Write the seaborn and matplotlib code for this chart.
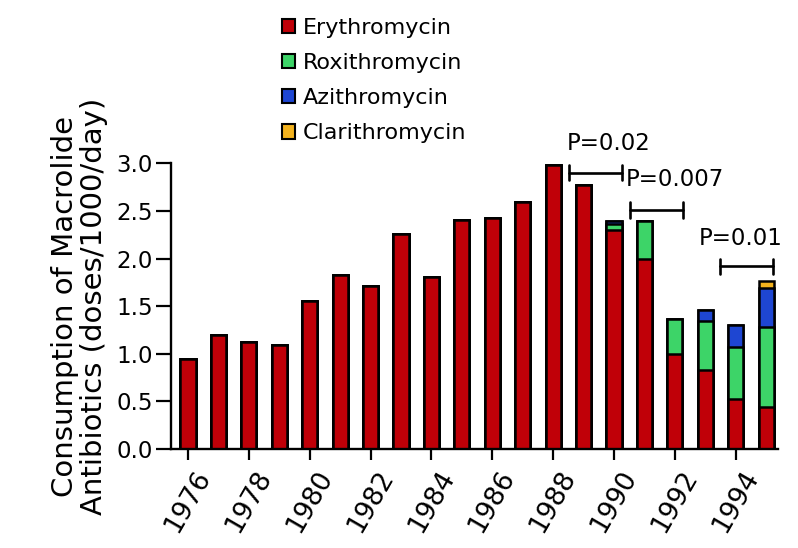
import numpy as np
import pandas as pd
import matplotlib
matplotlib.use("Agg")
import matplotlib.pyplot as plt
from matplotlib.patches import Patch
import seaborn as sns

years = list(range(1976, 1996))
erythromycin = [0.94, 1.20, 1.12, 1.09, 1.55, 1.83, 1.71, 2.26, 1.81, 2.40,
                2.43, 2.59, 2.98, 2.77, 2.30, 2.00, 1.00, 0.83, 0.52, 0.44]
roxithromycin = [0, 0, 0, 0, 0, 0, 0, 0, 0, 0,
                 0, 0, 0, 0, 0.06, 0.39, 0.37, 0.51, 0.55, 0.84]
azithromycin = [0, 0, 0, 0, 0, 0, 0, 0, 0, 0,
                0, 0, 0, 0, 0.03, 0, 0, 0.115, 0.23, 0.41]
clarithromycin = [0, 0, 0, 0, 0, 0, 0, 0, 0, 0,
                  0, 0, 0, 0, 0, 0, 0, 0, 0, 0.07]
series_names = ["Erythromycin", "Roxithromycin", "Azithromycin", "Clarithromycin"]
tick_years = list(range(1976, 1995, 2))
y_ticks = [0.0, 0.5, 1.0, 1.5, 2.0, 2.5, 3.0]
p_labels = ["P=0.02", "P=0.007", "P=0.01"]
p_ranges = [(1988.52, 1990.27), (1990.53, 1992.27), (1993.49, 1995.23)]
p_heights = [2.90, 2.51, 1.92]

colors = ["#C00008", "#3DD468", "#1E46D2", "#F2B21E"]

sns.set_style("ticks")
plt.rcParams["font.family"] = ["DejaVu Sans"]
for k in ["text.color", "axes.labelcolor", "xtick.color", "ytick.color", "axes.edgecolor"]:
    plt.rcParams[k] = "black"

df = pd.DataFrame({"year": years, "ery": erythromycin, "roxi": roxithromycin,
                   "azi": azithromycin, "clari": clarithromycin})
df["c1"] = df["ery"]
df["c2"] = df["c1"] + df["roxi"]
df["c3"] = df["c2"] + df["azi"]
df["c4"] = df["c3"] + df["clari"]

fig = plt.figure(figsize=(7.98, 5.48), dpi=100)
ax = fig.add_axes([171 / 798, (548 - 449) / 548, 607 / 798, 285.7 / 548])

for col, c in zip(["c4", "c3", "c2", "c1"], colors[::-1]):
    sns.barplot(data=df, x="year", y=col, color=c, saturation=1, width=0.5,
                native_scale=True, edgecolor="black", linewidth=1.8, ax=ax,
                errorbar=None)

ax.set_xlim(1975.44, 1995.39)
ax.set_ylim(0, 3.0)
ax.set_yticks(y_ticks)
ax.set_yticklabels([f"{v:.1f}" for v in y_ticks], fontsize=16.5)
ax.set_xticks(tick_years)
ax.set_xticklabels([str(y) for y in tick_years], fontsize=19, rotation=60)
ax.tick_params(axis="y", length=11, width=1.6, pad=2)
ax.tick_params(axis="x", length=8, width=1.6, pad=4)
ax.set_xlabel("")
ax.set_ylabel("Consumption of Macrolide\nAntibiotics (doses/1000/day)",
              fontsize=21, linespacing=1.05, labelpad=6)
sns.despine(ax=ax)
for s in ["left", "bottom"]:
    ax.spines[s].set_linewidth(1.7)

# P-value brackets
for lab, (x0, x1), h in zip(p_labels, p_ranges, p_heights):
    ax.plot([x0, x1], [h, h], color="black", lw=1.9, clip_on=False)
    for xx in (x0, x1):
        ax.plot([xx, xx], [h - 0.08, h + 0.08], color="black", lw=1.9, clip_on=False)
text_pos = [(1989.81, 3.21), (1992.01, 2.83), (1994.15, 2.21)]
for lab, (tx, ty) in zip(p_labels, text_pos):
    ax.text(tx, ty, lab, fontsize=16.5, ha="center", va="center")

handles = [Patch(facecolor=c, edgecolor="black", linewidth=1.5) for c in colors]
ax.legend(handles, series_names, loc="upper left",
          bbox_to_anchor=(282 / 798, 1 - 18 / 548), bbox_transform=fig.transFigure,
          frameon=False, borderpad=0, borderaxespad=0, handlelength=0.6,
          handleheight=0.6, handletextpad=0.35, labelspacing=0.68, fontsize=16)

fig.savefig("out.png", dpi=100)
